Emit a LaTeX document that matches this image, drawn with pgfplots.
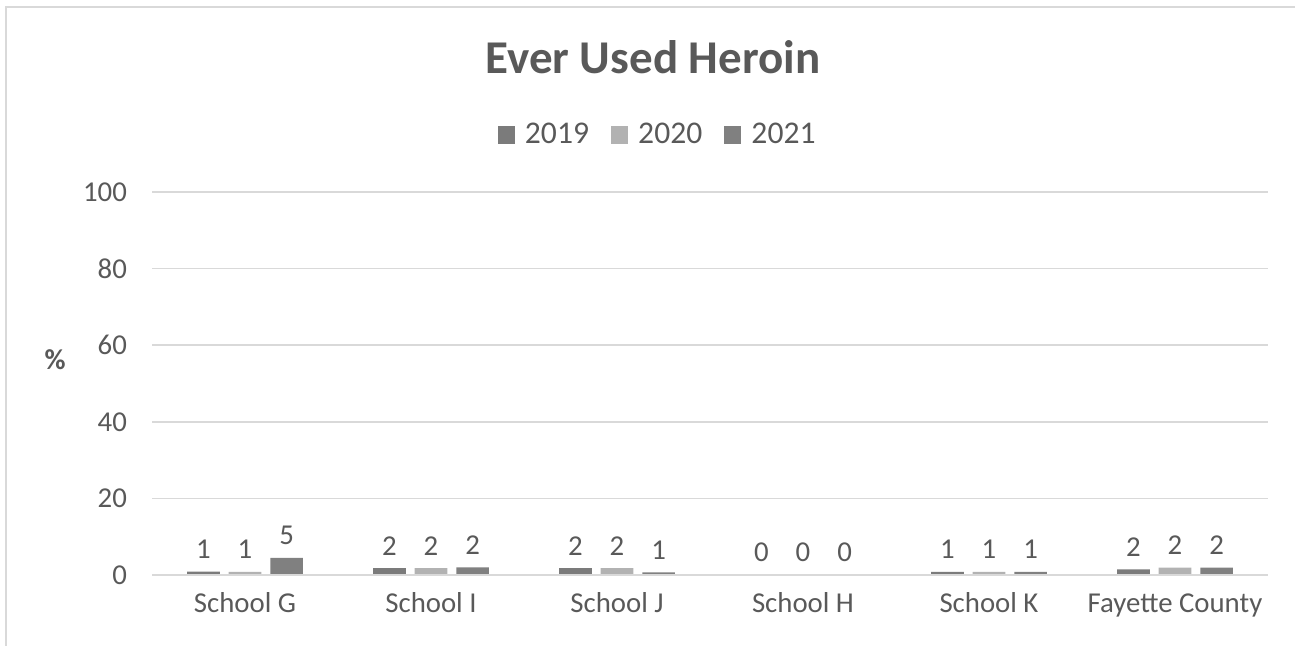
\documentclass[border=0pt]{standalone}
\usepackage{pgfplots}
\pgfplotsset{compat=1.18}
\usepackage{fontspec}
\setmainfont{Carlito}
\definecolor{txt}{HTML}{595959}
\definecolor{gridc}{HTML}{D9D9D9}
\definecolor{cA}{HTML}{7B7B7B}
\definecolor{cB}{HTML}{B2B2B2}
\definecolor{cC}{HTML}{808080}
\begin{document}
\begin{tikzpicture}
\path[use as bounding box] (0pt,0pt) rectangle (647.5pt,322.5pt);
\draw[gridc, line width=1pt] (3pt,-3pt) -- (3pt,319pt) -- (650pt,319pt);
\node[text=txt, font=\fontsize{23.5}{26}\selectfont\bfseries] at (326.5pt,293.75pt) {Ever Used Heroin};
\begin{axis}[
  at={(76pt,35pt)}, anchor=south west,
  width=558pt, height=191.5pt, scale only axis,
  xmin=-0.5, xmax=5.5, ymin=0, ymax=100,
  ytick={0,20,40,60,80,100},
  xtick={0,1,2,3,4,5},
  xticklabels={School G,School I,School J,School H,School K,Fayette County},
  major tick length=0pt,
  axis line style={draw=none},
  ymajorgrids, grid style={gridc, line width=0.8pt},
  tick label style={text=txt, font=\fontsize{14.4}{17}\selectfont},
  /pgf/number format/assume math mode=true,
  yticklabel style={xshift=-9pt},
  xticklabel style={yshift=-5pt, text height=10pt, text depth=3pt},
  ylabel={\textbf{\%}}, ylabel style={rotate=-90, text=txt, font=\fontsize{14.4}{17}\selectfont, at={(rel axis cs:-0.0869,0.561)}, anchor=center},
  ybar, bar width=16.35pt,
  nodes near coords,
  every node near coord/.append style={text=txt, font=\fontsize{14.4}{17}\selectfont, /pgf/number format/fixed, /pgf/number format/precision=0, /pgf/number format/assume math mode=true, yshift=3pt},
  legend style={at={(rel axis cs:0.454,1.149)}, anchor=center, draw=none, fill=none, legend columns=3, font=\fontsize{15.8}{18}\selectfont, text=txt, /tikz/every odd column/.append style={column sep=3pt}, /tikz/every even column/.append style={column sep=9pt}},
  legend image code/.code={\fill[#1] (0pt,-4.3pt) rectangle (8.6pt,4.3pt);},
]
\addplot[fill=cA, draw=none, bar shift=-20.8pt] coordinates {(0,0.86) (1,1.8) (2,1.8) (3,0) (4,0.8) (5,1.5)};
\addplot[fill=cB, draw=none, bar shift=0pt] coordinates {(0,0.8) (1,1.8) (2,1.8) (3,0) (4,0.8) (5,1.9)};
\addplot[fill=cC, draw=none, bar shift=20.8pt] coordinates {(0,4.5) (1,2.0) (2,0.7) (3,0) (4,0.8) (5,1.9)};
\legend{2019,2020,2021}
\draw[gridc, line width=1pt] (rel axis cs:0,0) -- (rel axis cs:1,0);
\end{axis}
\end{tikzpicture}
\end{document}
